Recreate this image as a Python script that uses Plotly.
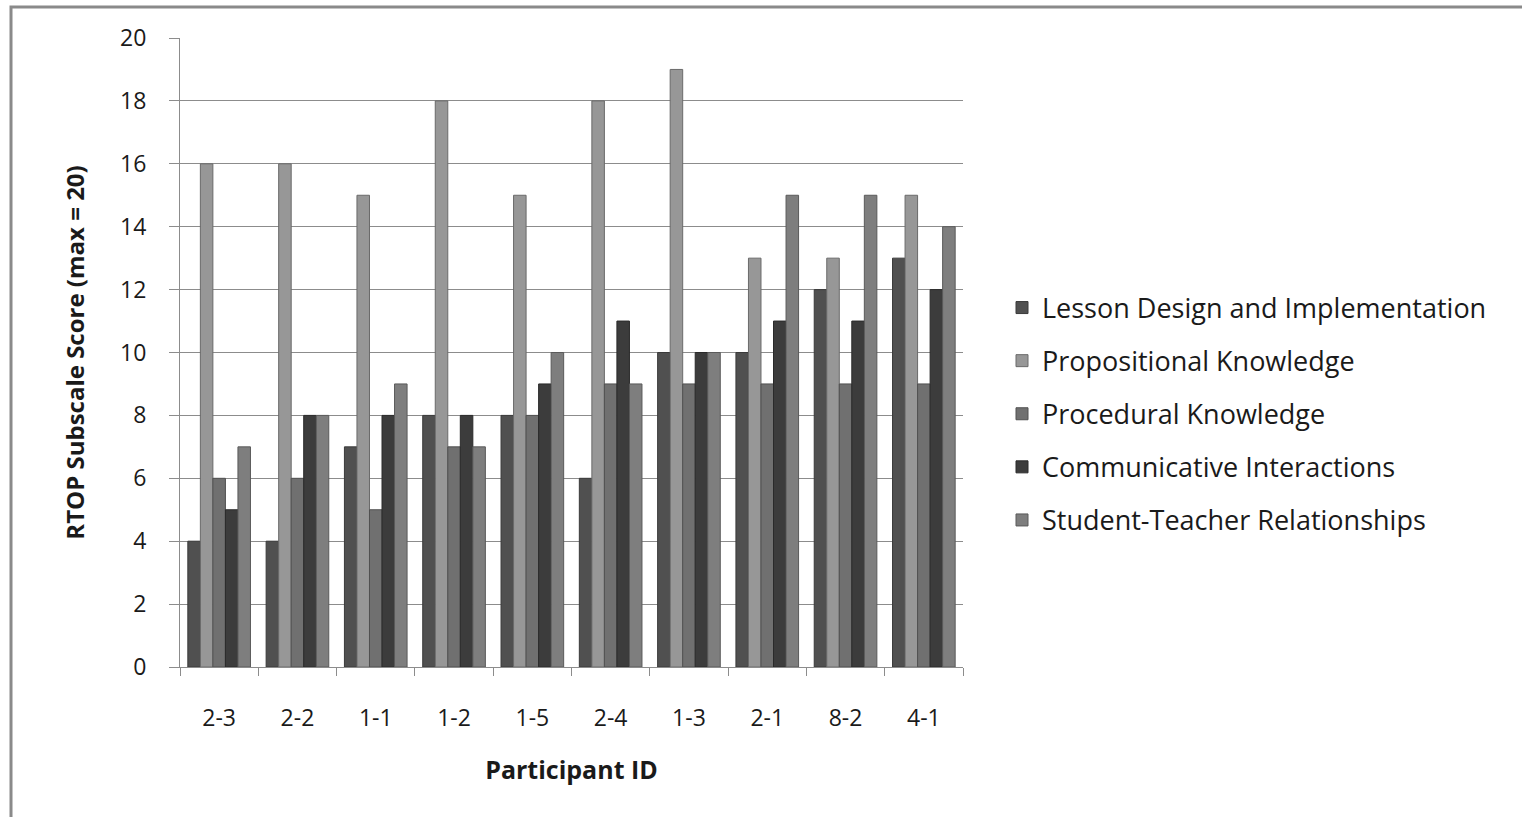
import plotly.graph_objects as go

# Participant IDs on the x axis
participants = ["2-3", "2-2", "1-1", "1-2", "1-5", "2-4", "1-3", "2-1", "8-2", "4-1"]

# RTOP subscale scores per participant
lesson_design = [4, 4, 7, 8, 8, 6, 10, 10, 12, 13]
propositional = [16, 16, 15, 18, 15, 18, 19, 13, 13, 15]
procedural = [6, 6, 5, 7, 8, 9, 9, 9, 9, 9]
communicative = [5, 8, 8, 8, 9, 11, 10, 11, 11, 12]
student_teacher = [7, 8, 9, 7, 10, 9, 10, 15, 15, 14]

series_names = [
    "Lesson Design and Implementation",
    "Propositional Knowledge",
    "Procedural Knowledge",
    "Communicative Interactions",
    "Student-Teacher Relationships",
]
series_values = [lesson_design, propositional, procedural, communicative, student_teacher]
series_colors = ["#505050", "#979797", "#707070", "#3c3c3c", "#7e7e7e"]
edge_colors = ["#3a3a3a", "#6a6a6a", "#505050", "#2a2a2a", "#5a5a5a"]

FONT = "Open Sans"

fig = go.Figure()
for i, (name, vals, col, edge) in enumerate(zip(series_names, series_values, series_colors, edge_colors)):
    fig.add_trace(go.Bar(
        x=participants,
        y=vals,
        name=name,
        legendgroup=f"g{i}",
        marker=dict(color=col, line=dict(color=edge, width=1)),
    ))

W, H = 1522, 817
L, R, T, B = 180, 559, 38, 150
pw, ph = W - L - R, H - T - B

fig.update_layout(
    width=W,
    height=H,
    margin=dict(l=L, r=R, t=T, b=B, pad=0),
    paper_bgcolor="white",
    plot_bgcolor="white",
    barmode="group",
    bargap=0.2,
    bargroupgap=0,
    font=dict(family=FONT, size=23, color="#1a1a1a"),
    showlegend=True,
    legend=dict(
        x=(1002 - L) / pw,
        xanchor="left",
        y=(H - B - 414) / ph,
        yanchor="middle",
        traceorder="grouped",
        tracegroupgap=15,
        font=dict(family=FONT, size=27, color="#1a1a1a"),
        itemwidth=30,
        bgcolor="rgba(0,0,0,0)",
    ),
    xaxis=dict(
        showgrid=False,
        showline=True,
        linecolor="#8c8c8c",
        linewidth=1,
        ticks="outside",
        tickson="boundaries",
        ticklen=8,
        tickcolor="#8c8c8c",
        tickfont=dict(family=FONT, size=23, color="#1a1a1a"),
        ticklabelstandoff=30,
        title=dict(text="<b>Participant ID</b>", font=dict(family=FONT, size=25, color="#1a1a1a"), standoff=29),
    ),
    yaxis=dict(
        range=[0, 20],
        dtick=2,
        showgrid=True,
        gridcolor="#8c8c8c",
        gridwidth=1,
        zeroline=False,
        showline=True,
        linecolor="#8c8c8c",
        linewidth=1,
        ticks="outside",
        ticklen=10,
        tickcolor="#8c8c8c",
        tickfont=dict(family=FONT, size=23, color="#1a1a1a"),
        ticklabelstandoff=18,
        title=dict(text="<b>RTOP Subscale Score (max = 20)</b>", font=dict(family=FONT, size=24, color="#1a1a1a"), standoff=28),
    ),
    shapes=[
        dict(
            type="rect",
            xref="paper", yref="paper",
            x0=(11 - L) / pw, x1=(W + 20 - L) / pw,
            y0=(H - B - (H + 20)) / ph, y1=(H - B - 7) / ph,
            line=dict(color="#8a8a8a", width=3),
            fillcolor="rgba(0,0,0,0)",
            layer="below",
        )
    ],
)

fig.write_html("out.html")
